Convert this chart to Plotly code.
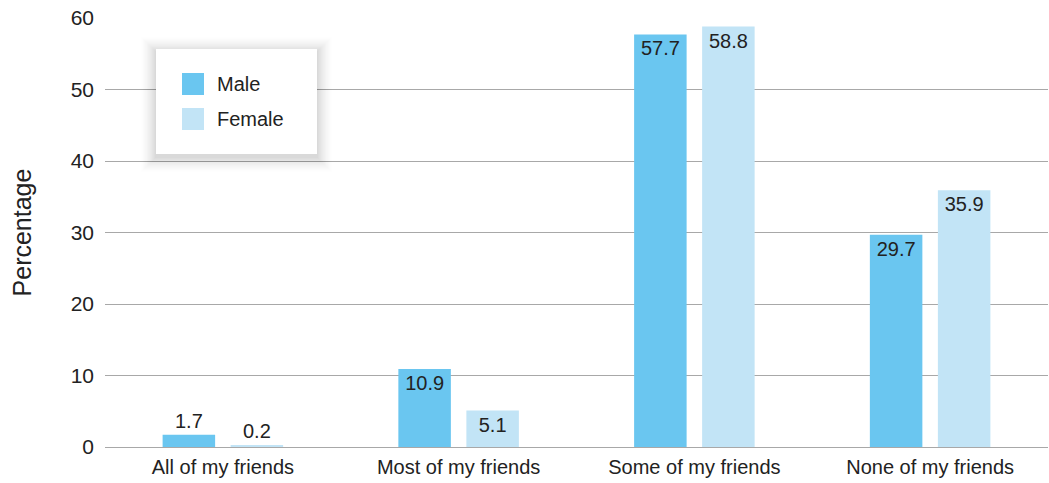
import plotly.graph_objects as go

categories = ["All of my friends", "Most of my friends", "Some of my friends", "None of my friends"]
male = [1.7, 10.9, 57.7, 29.7]
female = [0.2, 5.1, 58.8, 35.9]
series_names = ["Male", "Female"]
y_ticks = [0, 10, 20, 30, 40, 50, 60]

MALE_C = "#6ac6f0"
FEMALE_C = "#c2e4f6"
TEXT_C = "#222222"
GRID_C = "#a8a8a8"
FONT = "Liberation Sans, Arial, Helvetica, sans-serif"

W, H = 1049, 483
ML, MR, MT, MB = 105, 1, 18, 36
PW, PH = W - ML - MR, H - MT - MB


def px_x(p):
    return (p - ML) / PW


def px_y(p):
    return (H - MB - p) / PH


def pos(vals, thresh=3):
    return ["inside" if v > thresh else "outside" for v in vals]


fig = go.Figure()
for name, vals, col in [(series_names[0], male, MALE_C), (series_names[1], female, FEMALE_C)]:
    fig.add_trace(go.Bar(
        x=categories, y=vals, name=name,
        marker=dict(color=col, line=dict(width=0)),
        text=[f"{v:.1f}" for v in vals],
        textposition=pos(vals),
        insidetextanchor="end",
        textangle=0,
        constraintext="none",
        insidetextfont=dict(family=FONT, size=20, color=TEXT_C),
        outsidetextfont=dict(family=FONT, size=20, color=TEXT_C),
        cliponaxis=False,
        showlegend=False,
    ))

# custom legend box with soft shadow
L, R, T, B = 156, 317, 49, 154
shapes = []
for k in range(1, 15):
    e = 1.1 * k
    shapes.append(dict(
        type="rect", xref="paper", yref="paper", layer="above",
        x0=px_x(L - e), x1=px_x(R + e), y0=px_y(T - e + 3), y1=px_y(B + e + 3),
        fillcolor="rgba(0,0,0,%.4f)" % (0.004 + 0.0009 * (15 - k)), line=dict(width=0),
    ))
shapes.append(dict(
    type="rect", xref="paper", yref="paper", layer="above",
    x0=px_x(L), x1=px_x(R), y0=px_y(T), y1=px_y(B),
    fillcolor="white", line=dict(width=0),
))
annotations = []
for i, (name, col) in enumerate(zip(series_names, [MALE_C, FEMALE_C])):
    cy = 84 + 35 * i
    shapes.append(dict(
        type="rect", xref="paper", yref="paper", layer="above",
        x0=px_x(182), x1=px_x(204), y0=px_y(cy - 11), y1=px_y(cy + 11),
        fillcolor=col, line=dict(width=0),
    ))
    annotations.append(dict(
        xref="paper", yref="paper", x=px_x(215), y=px_y(cy),
        xanchor="left", yanchor="middle", text=name, showarrow=False,
        font=dict(family=FONT, size=20, color=TEXT_C),
    ))

fig.update_layout(
    width=W, height=H,
    margin=dict(l=ML, r=MR, t=MT, b=MB, pad=0),
    paper_bgcolor="white", plot_bgcolor="white",
    barmode="group", bargap=0.423, bargroupgap=0.228,
    font=dict(family=FONT, size=20, color=TEXT_C),
    shapes=shapes, annotations=annotations,
    showlegend=False,
    xaxis=dict(
        showgrid=False, showline=False, ticks="", ticklabelstandoff=6,
        tickfont=dict(family=FONT, size=20, color=TEXT_C),
    ),
    yaxis=dict(
        range=[0, 60], tickvals=y_ticks, showgrid=True, gridcolor=GRID_C, gridwidth=1,
        zeroline=True, zerolinecolor=GRID_C, zerolinewidth=1,
        showline=False, ticks="", ticklabelstandoff=10,
        tickfont=dict(family=FONT, size=21, color=TEXT_C),
        title=dict(text="Percentage", font=dict(family=FONT, size=25, color=TEXT_C), standoff=31),
    ),
)

fig.write_html("out.html")
